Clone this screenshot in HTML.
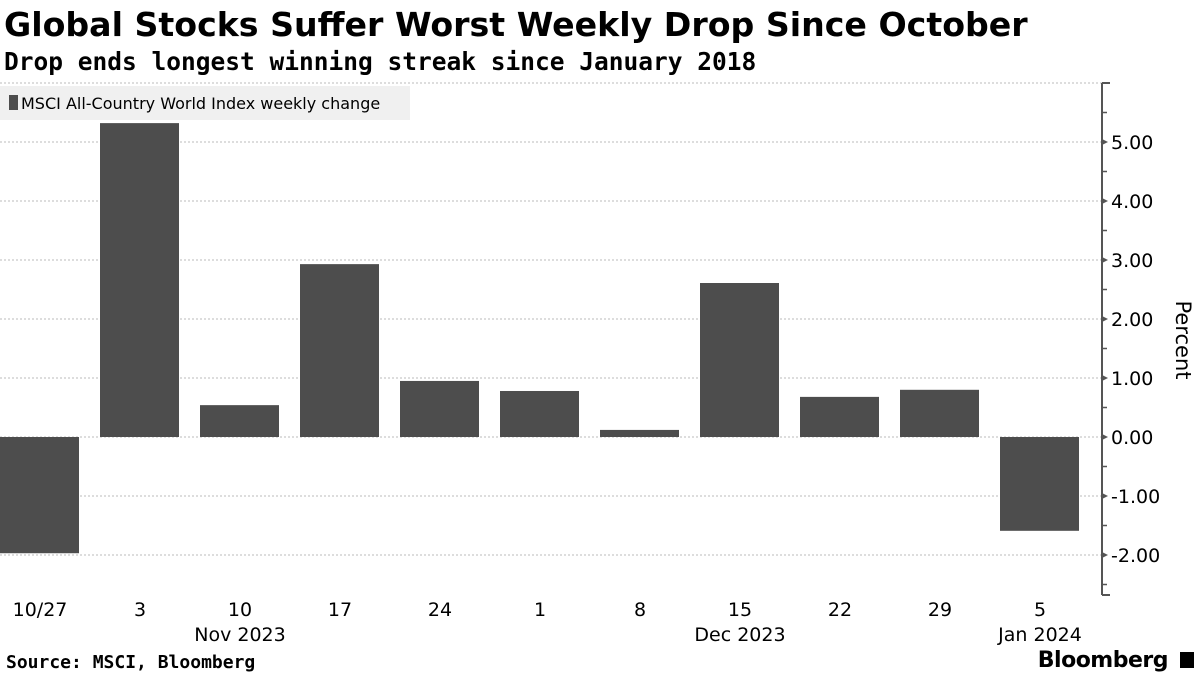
<!DOCTYPE html>
<html><head><meta charset="utf-8"><style>
body{margin:0;width:1200px;height:675px;background:#fff;overflow:hidden;font-family:"DejaVu Sans","Liberation Sans",sans-serif;}
.t{position:absolute;left:4px;top:5px;font-size:33.2px;font-weight:bold;color:#000;}
.s{position:absolute;left:4px;top:47px;font-size:24.5px;font-weight:bold;color:#000;font-family:"DejaVu Sans Mono","Liberation Mono",monospace;}
.src{position:absolute;left:6px;top:652px;font-size:18px;font-weight:bold;font-family:"DejaVu Sans Mono","Liberation Mono",monospace;}
.bb{position:absolute;right:32px;top:648px;font-size:22px;font-weight:bold;letter-spacing:-0.5px;}
</style></head><body>
<div class="t">Global Stocks Suffer Worst Weekly Drop Since October</div>
<div class="s">Drop ends longest winning streak since January 2018</div>
<svg id="c" width="1200" height="675" style="position:absolute;left:0;top:0"></svg>
<div class="src">Source: MSCI, Bloomberg</div>
<div class="bb">Bloomberg</div>
<div style="position:absolute;right:6px;top:652px;width:14px;height:16px;background:#000"></div>
<script>
const categories=["10/27","3","10","17","24","1","8","15","22","29","5"];
const values=[-1.97,5.32,0.54,2.93,0.95,0.78,0.12,2.61,0.68,0.80,-1.59];
const yTicks=[-2,-1,0,1,2,3,4,5];
const groupLabels=["Nov 2023","Dec 2023","Jan 2024"];
const groupIdx=[2,7,10];
const NS="http://www.w3.org/2000/svg";
const svg=document.getElementById('c');
const y=v=>437-v*59;
const x=i=>40+i*100;
function mk(t,a){const e=document.createElementNS(NS,t);for(const k in a)e.setAttribute(k,a[k]);svg.appendChild(e);return e;}
for(let v=-2;v<=5;v+=1){
  const l=mk('line',{x1:0,x2:1102,y1:y(v),y2:y(v),stroke:'#bbb','stroke-dasharray':'2,2','stroke-width':1});
  
  
}
mk('line',{x1:0,x2:1102,y1:83,y2:83,stroke:'#bbb','stroke-dasharray':'2,2'});
values.forEach((v,i)=>{
  const r=mk('rect',{x:x(i)-40,width:79,y:Math.min(y(v),y(0)),height:Math.abs(y(v)-y(0)),fill:'#4d4d4d'});
  
  
  const t=mk('text',{x:x(i),y:616,'font-size':19,'text-anchor':'middle',fill:'#000'});
  t.textContent=categories[i];
  
  
});
groupLabels.forEach((g,j)=>{
  const t=mk('text',{x:x(groupIdx[j]),y:641,'font-size':19,'text-anchor':'middle',fill:'#000'});
  t.textContent=g;
  
  
});
mk('line',{x1:1102,x2:1102,y1:83,y2:595,stroke:'#555','stroke-width':2});
mk('line',{x1:1102,x2:1110,y1:83,y2:83,stroke:'#555','stroke-width':2});
mk('line',{x1:1102,x2:1110,y1:595,y2:595,stroke:'#555','stroke-width':2});
for(let v=-2.5;v<=5.5;v+=1){mk('line',{x1:1102,x2:1107,y1:y(v),y2:y(v),stroke:'#555','stroke-width':1.5});}
yTicks.forEach(v=>{
  mk('path',{d:`M1102 ${y(v)-3}L1108 ${y(v)}L1102 ${y(v)+3}Z`,fill:'#555'});
  const t=mk('text',{x:1111,y:y(v)+7,'font-size':19,fill:'#000'});
  t.textContent=v.toFixed(2);
  
  
});
const yt=mk('text',{x:1176,y:340,'font-size':21,'text-anchor':'middle',transform:'rotate(90 1176 340)',fill:'#000'});
yt.textContent='Percent';


const lg=mk('rect',{x:0,y:86,width:410,height:34,fill:'#f0f0f0'});


mk('rect',{x:9,y:95,width:9,height:15,fill:'#4d4d4d'});
const lt=mk('text',{x:21,y:109,'font-size':16,fill:'#000'});
lt.textContent='MSCI All-Country World Index weekly change';


</script>
</body></html>
